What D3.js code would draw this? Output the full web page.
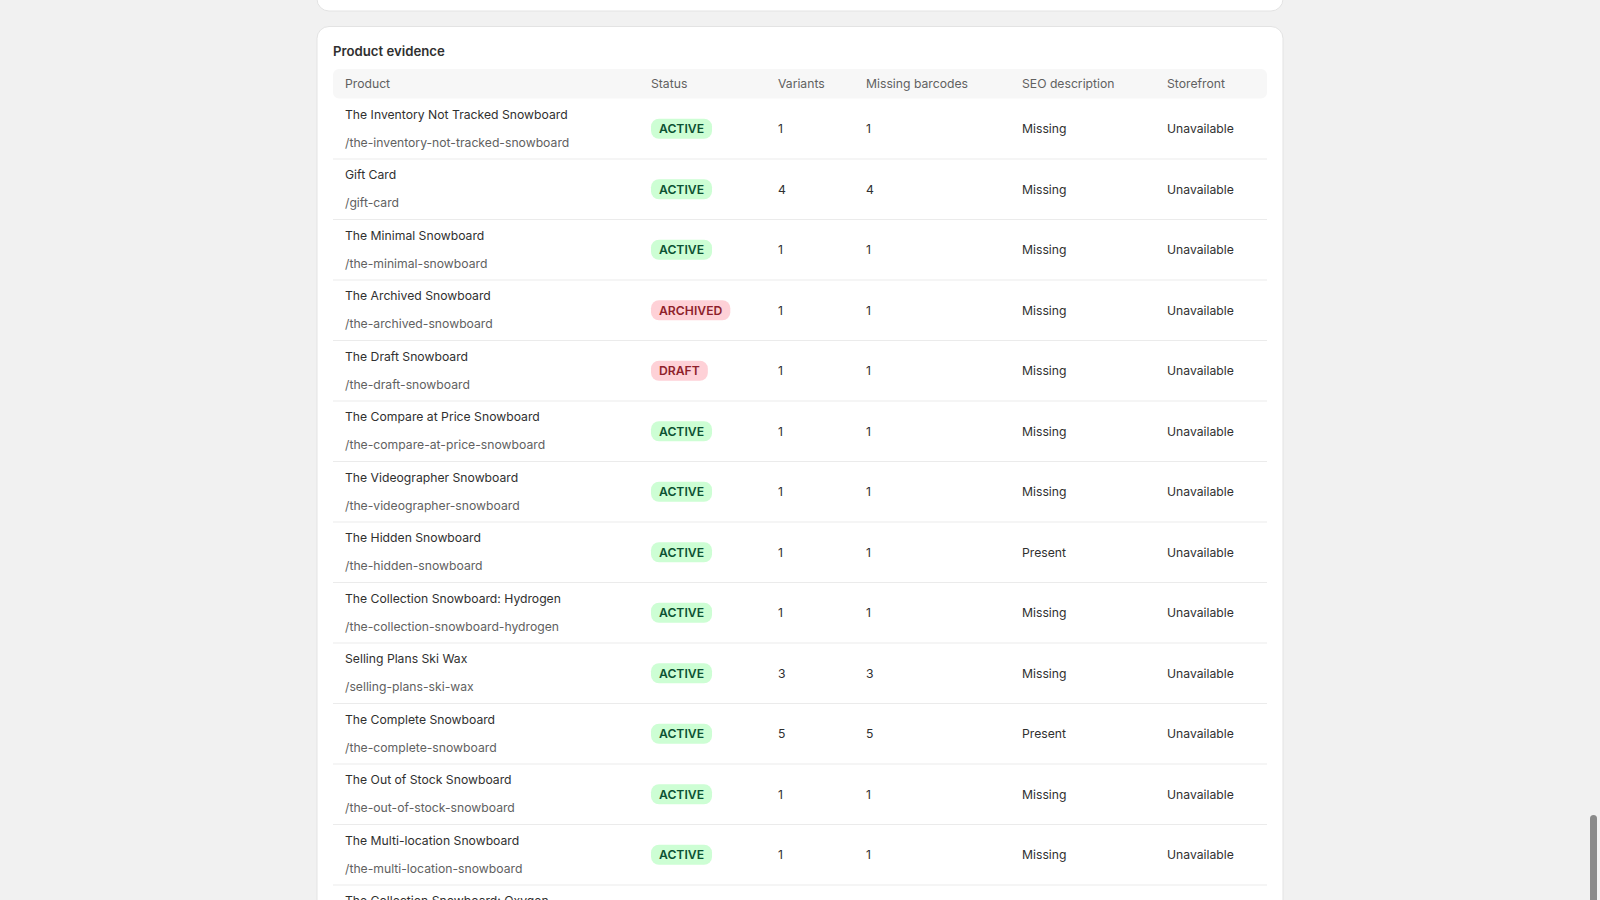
<!DOCTYPE html>
<html>
<head>
<meta charset="utf-8">
<script src="https://cdn.jsdelivr.net/npm/d3@7"></script>
<style>
  html, body { margin: 0; padding: 0; background: #f1f1f1; overflow: hidden; }
  svg { display: block; font-family: Inter, "Noto Sans", sans-serif; }
</style>
</head>
<body>
<svg id="chart" width="1600" height="900"></svg>
<script>
// Table data
const columns = ['Product', 'Status', 'Variants', 'Missing barcodes', 'SEO description', 'Storefront'];
const products = [
    'The Inventory Not Tracked Snowboard', 'Gift Card', 'The Minimal Snowboard', 'The Archived Snowboard',
    'The Draft Snowboard', 'The Compare at Price Snowboard', 'The Videographer Snowboard', 'The Hidden Snowboard',
    'The Collection Snowboard: Hydrogen', 'Selling Plans Ski Wax', 'The Complete Snowboard',
    'The Out of Stock Snowboard', 'The Multi-location Snowboard', 'The Collection Snowboard: Oxygen'
];
const handles = [
    '/the-inventory-not-tracked-snowboard', '/gift-card', '/the-minimal-snowboard', '/the-archived-snowboard',
    '/the-draft-snowboard', '/the-compare-at-price-snowboard', '/the-videographer-snowboard', '/the-hidden-snowboard',
    '/the-collection-snowboard-hydrogen', '/selling-plans-ski-wax', '/the-complete-snowboard',
    '/the-out-of-stock-snowboard', '/the-multi-location-snowboard', '/the-collection-snowboard-oxygen'
];
const statuses = ['ACTIVE', 'ACTIVE', 'ACTIVE', 'ARCHIVED', 'DRAFT', 'ACTIVE', 'ACTIVE', 'ACTIVE', 'ACTIVE', 'ACTIVE', 'ACTIVE', 'ACTIVE', 'ACTIVE', 'ACTIVE'];
const variants = [1, 4, 1, 1, 1, 1, 1, 1, 1, 3, 5, 1, 1, 1];
const missingBarcodes = [1, 4, 1, 1, 1, 1, 1, 1, 1, 3, 5, 1, 1, 1];
const seoDescription = ['Missing', 'Missing', 'Missing', 'Missing', 'Missing', 'Missing', 'Missing', 'Present', 'Missing', 'Missing', 'Present', 'Missing', 'Missing', 'Missing'];
const storefront = products.map(() => 'Unavailable');

const svg = d3.select('#chart');
const fs = 12.2;

// Upper card (bottom edge only visible)
svg.append('rect').attr('x', 317).attr('y', -30).attr('width', 966).attr('height', 41)
    .attr('rx', 12).attr('fill', '#fff').attr('stroke', '#e3e3e3');

// Main card
svg.append('rect').attr('x', 317).attr('y', 26.5).attr('width', 966).attr('height', 920)
    .attr('rx', 12).attr('fill', '#fff').attr('stroke', '#e3e3e3');

svg.append('text').attr('x', 333).attr('y', 56).attr('font-size', 13.2).attr('font-weight', 600)
    .attr('fill', '#303030').text('Product evidence');

// Column positions
const x = d3.scaleOrdinal().domain(columns).range([345, 651, 778, 866, 1022, 1167]);
const headerTop = 69, headerH = 29.5, rowH = 60.5;
const y = d3.scaleBand().domain(d3.range(products.length))
    .range([headerTop + headerH, headerTop + headerH + rowH * products.length]);

svg.append('rect').attr('x', 333).attr('y', headerTop).attr('width', 934).attr('height', headerH)
    .attr('rx', 6).attr('fill', '#f7f7f7');

svg.selectAll('.hdr').data(columns).enter().append('text')
    .attr('x', d => x(d)).attr('y', headerTop + headerH / 2 + 4.5)
    .attr('font-size', fs).attr('fill', '#616161').text(d => d);

const rows = svg.selectAll('.row').data(products).enter().append('g')
    .attr('transform', (d, i) => `translate(0,${y(i)})`);

rows.append('line').attr('x1', 333).attr('x2', 1267).attr('y1', rowH).attr('y2', rowH)
    .attr('stroke', '#ebebeb');

rows.append('text').attr('x', x('Product')).attr('y', 20).attr('font-size', fs)
    .attr('fill', '#303030').text(d => d);
rows.append('text').attr('x', x('Product')).attr('y', 48).attr('font-size', fs)
    .attr('fill', '#616161').text((d, i) => handles[i]);

const mid = rowH / 2 + 4.5;
const badge = rows.append('g').attr('transform', `translate(${x('Status')},${rowH / 2 - 10})`);
badge.each(function (d, i) {
    const g = d3.select(this);
    const s = statuses[i];
    const active = s === 'ACTIVE';
    const t = g.append('text').attr('x', 8).attr('y', 14.5).attr('font-size', fs).attr('font-weight', 600)
        .attr('fill', active ? '#0c5132' : '#8e1f2b').text(s);
    const w = t.node().getComputedTextLength() + 16;
    g.insert('rect', 'text').attr('width', w).attr('height', 20).attr('rx', 8)
        .attr('fill', active ? '#cdfed4' : '#fed1d7');
});

const cells = [['Variants', variants], ['Missing barcodes', missingBarcodes], ['SEO description', seoDescription], ['Storefront', storefront]];
cells.forEach(([col, vals]) => {
    rows.append('text').attr('x', x(col)).attr('y', mid).attr('font-size', fs)
        .attr('fill', '#303030').text((d, i) => vals[i]);
});

// Scrollbar
svg.append('rect').attr('x', 1590).attr('y', 815).attr('width', 7).attr('height', 90)
    .attr('rx', 3.5).attr('fill', '#8a8a8a');
</script>
</body>
</html>
